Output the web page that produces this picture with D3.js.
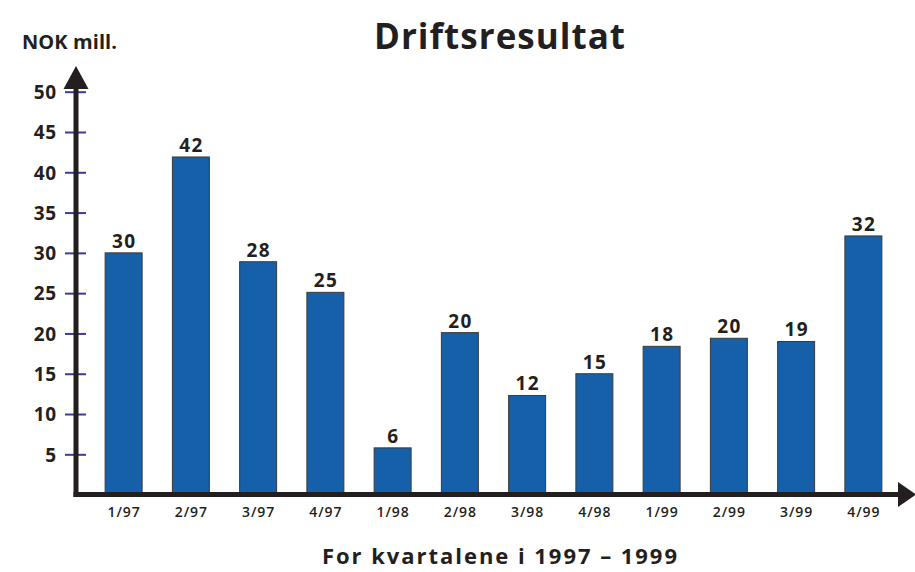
<!DOCTYPE html>
<html>
<head>
<meta charset="utf-8">
<script src="https://cdn.jsdelivr.net/npm/d3@7"></script>
<style>
  html, body { margin: 0; padding: 0; background: #fff; }
  svg { display: block; }
  text { font-family: "Open Sans", "Noto Sans", sans-serif; fill: #231f20; }
</style>
</head>
<body>
<svg id="chart" width="915" height="572"></svg>
<script>
// ---- data ----
const categories = ["1/97", "2/97", "3/97", "4/97", "1/98", "2/98", "3/98", "4/98", "1/99", "2/99", "3/99", "4/99"];
const values = [30, 41.9, 28.9, 25.1, 5.8, 20.1, 12.3, 15, 18.4, 19.4, 19, 32.1];
const valueLabels = ["30", "42", "28", "25", "6", "20", "12", "15", "18", "20", "19", "32"];
const yTicks = [5, 10, 15, 20, 25, 30, 35, 40, 45, 50];
const title = "Driftsresultat";
const yTitle = "NOK mill.";
const xTitle = "For kvartalene i 1997 \u2013 1999";

// ---- layout ----
const svg = d3.select("#chart");
const axisX = 76, axisY = 494.5;
const x = d3.scaleBand().domain(categories).range([90, 897]).paddingInner(0.45).paddingOuter(0.225);
const y = d3.scaleLinear().domain([0, 50]).range([494.6, 91.7]);

// bars
svg.append("g").selectAll("rect").data(values).join("rect")
  .attr("x", (d, i) => x(categories[i]))
  .attr("y", d => y(d))
  .attr("width", x.bandwidth())
  .attr("height", d => axisY - 2 - y(d))
  .attr("fill", "#1560a8")
  .attr("stroke", "#3a3a3a")
  .attr("stroke-width", 1);

// value labels
svg.append("g").selectAll("text").data(values).join("text")
  .attr("x", (d, i) => x(categories[i]) + x.bandwidth() / 2 + 0.75)
  .attr("y", d => y(d) - 5)
  .attr("text-anchor", "middle")
  .attr("font-size", 19)
  .attr("font-weight", 700)
  .attr("letter-spacing", 1.5)
  .text((d, i) => valueLabels[i]);

// y axis (ticks and labels)
const yAxis = d3.axisLeft(y).tickValues(yTicks).tickSize(0).tickPadding(0).tickFormat(d3.format("d"));
const gy = svg.append("g").attr("transform", `translate(${axisX},0)`).call(yAxis);
gy.select(".domain").remove();
gy.selectAll(".tick line").attr("x1", -11).attr("x2", 10).attr("stroke-width", 2).attr("stroke", "#3b3b9c");
gy.selectAll(".tick text")
  .attr("x", -19).attr("dy", "0.36em")
  .attr("font-size", 19).attr("font-weight", 700)
  .attr("letter-spacing", 0.8)
  .attr("font-family", "'Open Sans', 'Noto Sans', sans-serif")
  .attr("fill", "#231f20");

// x axis labels
const xAxis = d3.axisBottom(x).tickSize(0).tickPadding(0);
const gx = svg.append("g").attr("transform", `translate(0,${axisY})`).call(xAxis);
gx.select(".domain").remove();
gx.selectAll(".tick text")
  .attr("y", 22).attr("dy", 0).attr("dx", 0.5)
  .attr("font-size", 14).attr("font-weight", 600)
  .attr("letter-spacing", 1)
  .attr("font-family", "'Open Sans', 'Noto Sans', sans-serif")
  .attr("fill", "#231f20");

// axis lines with arrows
svg.append("line").attr("x1", axisX).attr("x2", axisX).attr("y1", 86).attr("y2", axisY + 2.5)
  .attr("stroke", "#231f20").attr("stroke-width", 5);
svg.append("line").attr("x1", axisX - 2.5).attr("x2", 900).attr("y1", axisY).attr("y2", axisY)
  .attr("stroke", "#231f20").attr("stroke-width", 5);
svg.append("path").attr("d", `M${axisX - 12.5},89 L${axisX},66 L${axisX + 12.5},89 Z`).attr("fill", "#231f20");
svg.append("path").attr("d", `M898,${axisY - 12.5} L916,${axisY} L898,${axisY + 12.5} Z`).attr("fill", "#231f20");

// titles
svg.append("text").attr("x", 374).attr("y", 49)
  .attr("font-size", 35).attr("font-weight", 700)
  .attr("textLength", 251).attr("lengthAdjust", "spacing").text(title);
svg.append("text").attr("x", 22).attr("y", 49)
  .attr("font-size", 20).attr("font-weight", 700)
  .attr("textLength", 95).attr("lengthAdjust", "spacing").text(yTitle);
svg.append("text").attr("x", 322).attr("y", 564)
  .attr("font-size", 22).attr("font-weight", 700)
  .attr("textLength", 355).attr("lengthAdjust", "spacing").text(xTitle);
</script>
</body>
</html>
